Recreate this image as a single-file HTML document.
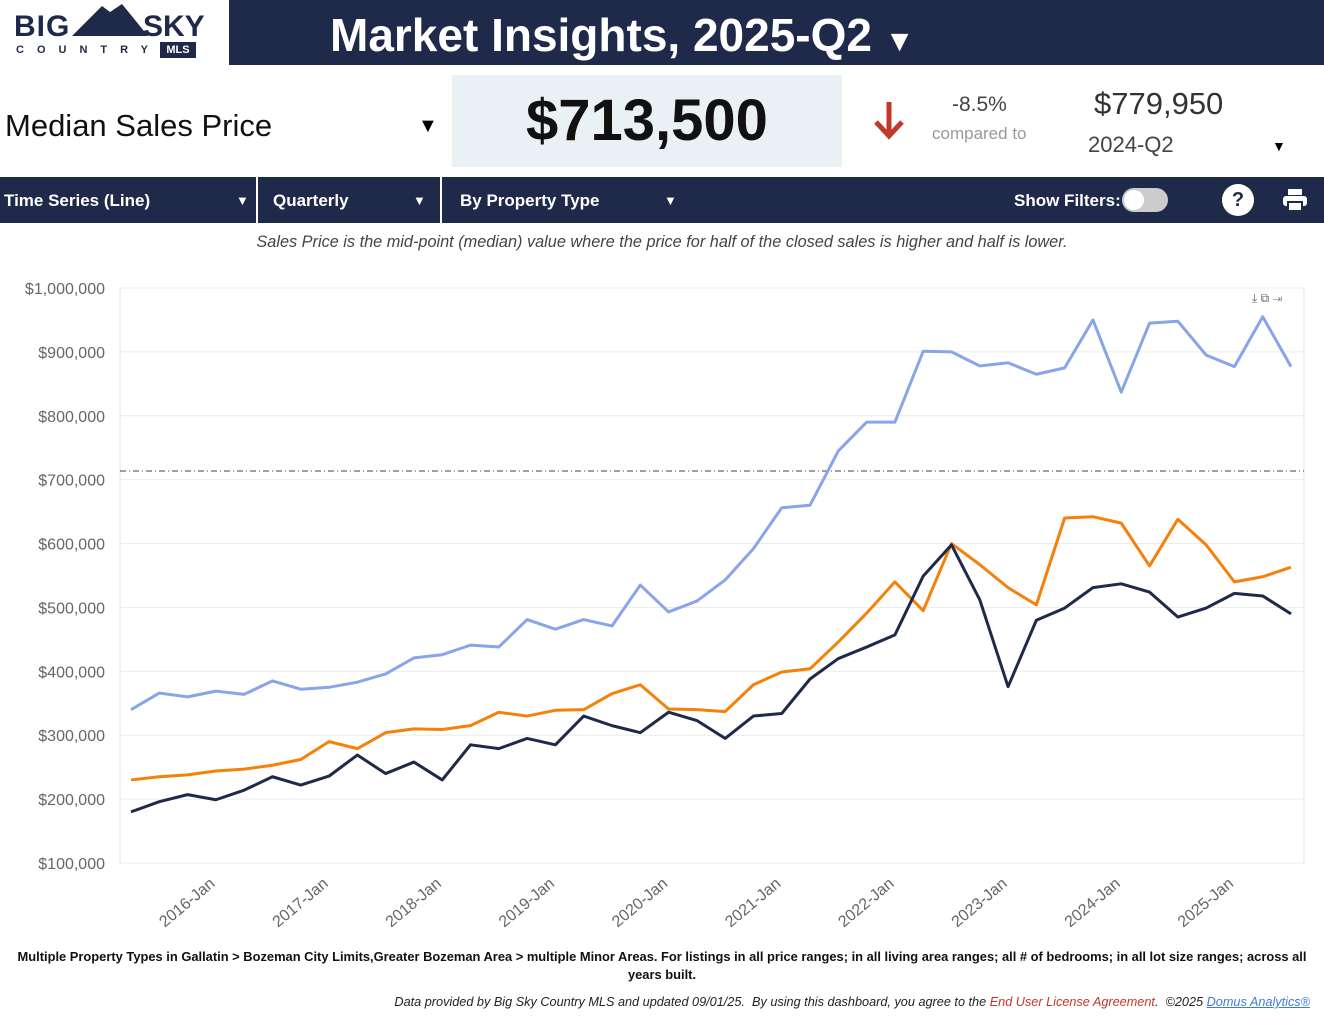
<!DOCTYPE html>
<html><head><meta charset="utf-8"><style>
body{margin:0;width:1324px;height:1023px;background:#fff;font-family:"Liberation Sans",sans-serif;position:relative;overflow:hidden}
.abs{position:absolute}
</style></head><body>
<div class="abs" style="left:0;top:0;width:229px;height:65px;">
 <div class="abs" style="left:14px;top:10px;font:900 30px 'Liberation Sans';color:#1f2a4a;letter-spacing:1px">BIG</div>
 <svg class="abs" style="left:72px;top:2px" width="76" height="36"><polygon points="0,34 30,4 38,10 50,2 76,34" fill="#1f2a4a"/></svg>
 <div class="abs" style="left:143px;top:10px;font:900 30px 'Liberation Sans';color:#1f2a4a">SKY</div>
 <div class="abs" style="left:16px;top:44px;font:bold 11px 'Liberation Sans';color:#1f2a4a;letter-spacing:13px">COUNTRY</div>
 <div class="abs" style="left:160px;top:42px;width:36px;height:16px;background:#1f2a4a;color:#fff;font:bold 11px 'Liberation Sans';text-align:center;line-height:16px">MLS</div>
</div>
<div class="abs" style="left:229px;top:0;width:1095px;height:65px;background:#1f2a4a"></div>
<div class="abs" style="left:330px;top:8px;font:bold 46px 'Liberation Sans';color:#fff">Market Insights, 2025-Q2 <span style="font-size:30px">&#9660;</span></div>
<div class="abs" style="left:5px;top:108px;font:31px 'Liberation Sans';color:#111">Median Sales Price</div>
<div class="abs" style="left:418px;top:115px;font:20px 'Liberation Sans'">&#9660;</div>
<div class="abs" style="left:452px;top:75px;width:390px;height:92px;background:#e9f1f4;text-align:center;font:bold 58px 'Liberation Sans';line-height:92px;color:#111">$713,500</div>
<svg class="abs" style="left:872px;top:100px" width="34" height="40"><path d="M17 2 V36 M4 22 L17 36 L30 22" stroke="#c0392b" stroke-width="5" fill="none"/></svg>
<div class="abs" style="left:952px;top:93px;font:21px 'Liberation Sans';color:#444">-8.5%</div>
<div class="abs" style="left:932px;top:124px;font:17px 'Liberation Sans';color:#999">compared to</div>
<div class="abs" style="left:1094px;top:86px;font:31px 'Liberation Sans';color:#333">$779,950</div>
<div class="abs" style="left:1088px;top:132px;font:22px 'Liberation Sans';color:#444">2024-Q2</div>
<div class="abs" style="left:1272px;top:138px;font:14px 'Liberation Sans'">&#9660;</div>
<div class="abs" style="left:0;top:177px;width:1324px;height:46px;background:#1f2a4a;color:#fff;font:bold 17px 'Liberation Sans'">
 <div class="abs" style="left:4px;top:14px">Time Series (Line)</div>
 <div class="abs" style="left:236px;top:16px;font-size:13px">&#9660;</div>
 <div class="abs" style="left:256px;top:0;width:2px;height:46px;background:#fff"></div>
 <div class="abs" style="left:273px;top:14px">Quarterly</div>
 <div class="abs" style="left:413px;top:16px;font-size:13px">&#9660;</div>
 <div class="abs" style="left:440px;top:0;width:2px;height:46px;background:#fff"></div>
 <div class="abs" style="left:460px;top:14px">By Property Type</div>
 <div class="abs" style="left:664px;top:16px;font-size:13px">&#9660;</div>
 <div class="abs" style="left:1014px;top:14px">Show Filters:</div>
 <div class="abs" style="left:1122px;top:11px;width:46px;height:24px;border-radius:12px;background:#ccc"><div style="position:absolute;left:2px;top:2px;width:20px;height:20px;border-radius:10px;background:#fff"></div></div>
 <div class="abs" style="left:1222px;top:7px;width:32px;height:32px;border-radius:16px;background:#fff;color:#1f2a4a;text-align:center;line-height:32px;font-size:20px">?</div>
 <svg class="abs" style="left:1282px;top:10px" width="26" height="26"><rect x="6" y="2" width="14" height="6" fill="#fff"/><rect x="1" y="9" width="24" height="10" rx="3" fill="#fff"/><rect x="6" y="15" width="14" height="9" fill="#fff" stroke="#1f2a4a" stroke-width="2"/></svg>
</div>
<div class="abs" style="left:0;width:1324px;top:233px;text-align:center;font:italic 16.3px 'Liberation Sans';color:#444">Sales Price is the mid-point (median) value where the price for half of the closed sales is higher and half is lower.</div>
<svg class="abs" id="chart" style="left:0;top:0" width="1324" height="945"></svg>
<div class="abs" style="left:14px;width:1296px;top:948px;text-align:center;font:bold 12.9px 'Liberation Sans';color:#111;line-height:18px">Multiple Property Types in Gallatin &gt; Bozeman City Limits,Greater Bozeman Area &gt; multiple Minor Areas. For listings in all price ranges; in all living area ranges; all # of bedrooms; in all lot size ranges; across all years built.</div>
<div class="abs" style="right:14px;top:995px;font:italic 12.7px 'Liberation Sans';color:#222">Data provided by Big Sky Country MLS and updated 09/01/25.&nbsp; By using this dashboard, you agree to the <span style="color:#c0392b">End User License Agreement</span>.&nbsp; ©2025 <span style="color:#3b7dd8;text-decoration:underline">Domus Analytics®</span></div>
<script>
const yTicks=[100000,200000,300000,400000,500000,600000,700000,800000,900000,1000000];
const xLabels=["2016-Jan","2017-Jan","2018-Jan","2019-Jan","2020-Jan","2021-Jan","2022-Jan","2023-Jan","2024-Jan","2025-Jan"];
const firstLabelIndex=3;
const refValue=713500;
const seriesLight=[340,366,360,369,364,385,372,375,383,396,421,426,441,438,481,466,481,471,535,493,510,543,592,656,660,745,790,790,901,900,878,883,865,875,950,837,945,948,895,877,955,877];
const seriesOrange=[230,235,238,244,247,253,262,290,279,304,310,309,315,336,330,339,340,365,379,341,340,337,379,399,404,446,491,540,495,600,567,531,504,640,642,632,565,638,598,540,548,563];
const seriesNavy=[180,196,207,199,214,235,222,236,269,240,258,230,285,279,295,285,330,315,304,336,323,295,330,334,388,420,438,457,549,598,512,376,480,499,531,537,524,485,499,522,518,490];
const NS="http://www.w3.org/2000/svg",svg=document.getElementById('chart');
const L=120,R=1304,T=288,B=863,x0=131,x1=1291;
const n=seriesLight.length;
const xs=i=>x0+(x1-x0)*i/(n-1);
const ys=v=>B-(v-100000)/900000*(B-T);
function mk(t,a){const e=document.createElementNS(NS,t);for(const k in a)e.setAttribute(k,a[k]);svg.appendChild(e);return e;}
const frame=mk('rect',{x:L,y:T,width:R-L,height:B-T,fill:'none',stroke:'#e3e3e3'});


yTicks.forEach(v=>{const y=ys(v);
 const g=mk('line',{x1:L,x2:R,y1:y,y2:y,stroke:'#ececec'});
 
 
 const t=mk('text',{x:105,y:y+6,'text-anchor':'end','font-size':16,'font-family':'Liberation Sans',fill:'#666'});
 t.textContent='$'+v.toLocaleString('en-US');
 
 
});
xLabels.forEach((s,k)=>{const x=xs(firstLabelIndex+4*k);
 const t=mk('text',{x:x,y:885,'text-anchor':'end','font-size':16,'font-family':'Liberation Sans',fill:'#666',transform:`rotate(-40 ${x} 885)`});
 t.textContent=s;
 
 
});
const rl=mk('line',{x1:L,x2:R,y1:ys(refValue),y2:ys(refValue),stroke:'#444','stroke-dasharray':'6,3,1,3'});


[[seriesLight,'#87a5e8','series-line-light'],[seriesOrange,'#f5800a','series-line-orange'],[seriesNavy,'#1f2a4a','series-line-navy']].forEach(([d,c,nm])=>{
 const p=mk('polyline',{points:d.map((v,i)=>xs(i)+','+ys(v*1000)).join(' '),fill:'none',stroke:c,'stroke-width':3,'stroke-linejoin':'round'});
 
 
});
const ic=mk('text',{x:1252,y:302,'font-size':12,fill:'#666'});
ic.textContent='⤓ ⧉ ⇥';


</script>
</body></html>
